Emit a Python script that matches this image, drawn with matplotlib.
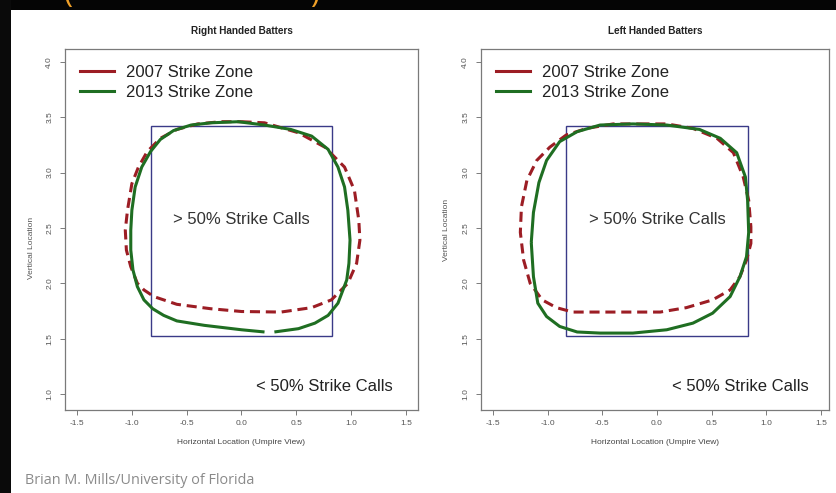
import matplotlib
matplotlib.use("Agg")
import matplotlib.pyplot as plt
from matplotlib.patches import Rectangle
from matplotlib.lines import Line2D

# ---- data -------------------------------------------------------------
panel_titles = ["Right Handed Batters", "Left Handed Batters"]
series_labels = ["2007 Strike Zone", "2013 Strike Zone"]

# rulebook zone (feet)
zone_x = [-0.83, 0.83]
zone_y = [1.52, 3.42]

# 50% called-strike contours, right handed batters
rhb_2013_x = [0.21, 0.00, -0.34, -0.59, -0.71, -0.81, -0.89, -0.95, -0.99, -1.01,
              -1.01, -1.00, -0.97, -0.91, -0.83, -0.74, -0.62, -0.46, -0.28, -0.03,
              0.21, 0.45, 0.64, 0.79, 0.88, 0.94, 0.97, 0.99, 0.98, 0.96,
              0.88, 0.79, 0.67, 0.52, 0.30]
rhb_2013_y = [1.56, 1.58, 1.62, 1.66, 1.71, 1.77, 1.85, 1.97, 2.12, 2.30,
              2.48, 2.66, 2.87, 3.05, 3.19, 3.30, 3.38, 3.43, 3.45, 3.46,
              3.43, 3.39, 3.33, 3.21, 3.05, 2.87, 2.66, 2.39, 2.18, 2.03,
              1.82, 1.71, 1.64, 1.59, 1.56]
rhb_2007_x = [0.00, 0.21, 0.52, 0.76, 0.94, 1.03, 1.07, 1.08, 1.05, 0.97,
              0.82, 0.64, 0.36, 0.00, -0.28, -0.59, -0.80, -0.89, -0.95, -1.01,
              -1.05, -1.06, -1.04, -1.00, -0.94, -0.86, -0.74, -0.59, -0.40, -0.19, 0.00]
rhb_2007_y = [3.46, 3.45, 3.36, 3.23, 3.05, 2.84, 2.57, 2.39, 2.18, 2.00,
              1.85, 1.78, 1.74, 1.745, 1.77, 1.81, 1.88, 1.94, 2.00, 2.15,
              2.30, 2.48, 2.66, 2.90, 3.05, 3.19, 3.31, 3.39, 3.44, 3.46, 3.46]

# 50% called-strike contours, left handed batters
lhb_2013_x = [-1.15, -1.13, -1.08, -1.01, -0.89, -0.73, -0.52, -0.22, 0.09, 0.39,
              0.58, 0.73, 0.81, 0.83, 0.84, 0.82, 0.76, 0.67, 0.51, 0.33,
              0.09, -0.22, -0.52, -0.73, -0.89, -1.01, -1.09, -1.13, -1.15]
lhb_2013_y = [2.37, 2.64, 2.91, 3.11, 3.28, 3.37, 3.43, 3.44, 3.43, 3.39,
              3.31, 3.18, 2.96, 2.75, 2.46, 2.24, 2.06, 1.88, 1.73, 1.64,
              1.58, 1.55, 1.55, 1.56, 1.61, 1.70, 1.82, 2.06, 2.37]
lhb_2007_x = [-0.16, 0.09, 0.33, 0.55, 0.70, 0.79, 0.84, 0.86, 0.86, 0.82,
              0.76, 0.67, 0.51, 0.27, 0.03, -0.22, -0.52, -0.77, -0.92, -1.05,
              -1.16, -1.22, -1.25, -1.24, -1.19, -1.10, -0.98, -0.83, -0.64, -0.40, -0.16]
lhb_2007_y = [3.44, 3.44, 3.40, 3.31, 3.18, 2.96, 2.75, 2.51, 2.36, 2.21,
              2.06, 1.94, 1.85, 1.78, 1.74, 1.74, 1.74, 1.74, 1.78, 1.85,
              2.00, 2.21, 2.46, 2.69, 2.93, 3.11, 3.23, 3.34, 3.40, 3.44, 3.44]

x_ticks = [-1.5, -1.0, -0.5, 0.0, 0.5, 1.0, 1.5]
y_ticks = [1.0, 1.5, 2.0, 2.5, 3.0, 3.5, 4.0]

inside_label = "> 50% Strike Calls"
outside_label = "< 50% Strike Calls"
credit = "Brian M. Mills/University of Florida"

# ---- style ------------------------------------------------------------
RED = "#9c1d24"
GREEN = "#1f6e22"
ZONE = "#3a3a88"
FRAME = "#7a7a7a"
TICKTXT = "#555555"

W, H = 837, 493
fig = plt.figure(figsize=(W / 100, H / 100), dpi=100, facecolor="white")
plt.rcParams["font.family"] = ["Liberation Sans", "DejaVu Sans"]

# dark slide border along the top and left
fig.patches.append(Rectangle((0, 1 - 10 / H), 1, 10 / H, transform=fig.transFigure,
                             facecolor="#050505", edgecolor="none", zorder=0))
fig.patches.append(Rectangle((0, 0), 11 / W, 1, transform=fig.transFigure,
                             facecolor="#0a0a0a", edgecolor="none", zorder=0))
fig.text(64 / W, 1 - 9 / H, "(", color="#f0a028", fontsize=22, ha="left", va="bottom",
         family="Open Sans")
fig.text(310 / W, 1 - 9 / H, ")", color="#f0a028", fontsize=22, ha="left", va="bottom",
         family="Open Sans")

axes_px = [(65, 418), (481, 829)]
xlims = [(-1.61, 1.61), (-1.61, 1.575)]
ylim = (0.855, 4.117)
top_px, bot_px = 49, 410

panels = [
    (rhb_2007_x, rhb_2007_y, rhb_2013_x, rhb_2013_y),
    (lhb_2007_x, lhb_2007_y, lhb_2013_x, lhb_2013_y),
]
ylabel_pos = [(-0.0935, 0.45), (-0.098, 0.5)]

for i, (x07, y07, x13, y13) in enumerate(panels):
    x0, x1 = axes_px[i]
    ax = fig.add_axes([x0 / W, (H - bot_px) / H, (x1 - x0) / W, (bot_px - top_px) / H])
    ax.set_xlim(*xlims[i])
    ax.set_ylim(*ylim)

    ax.add_patch(Rectangle((zone_x[0], zone_y[0]), zone_x[1] - zone_x[0],
                           zone_y[1] - zone_y[0], fill=False, edgecolor=ZONE,
                           linewidth=1.0, zorder=2))
    ax.plot(x07, y07, color=RED, linewidth=2.2, dashes=(3.3, 1.9),
            solid_capstyle="butt", zorder=3)
    ax.plot(x13, y13, color=GREEN, linewidth=2.2, solid_joinstyle="round",
            solid_capstyle="butt", zorder=4)

    ax.text(0.0, 2.58, inside_label, fontsize=12, color="#333333",
            ha="center", va="center")
    ax.text(0.76, 1.07, outside_label, fontsize=12, color="#222222",
            ha="center", va="center")

    handles = [Line2D([], [], color=RED, linewidth=2.2),
               Line2D([], [], color=GREEN, linewidth=2.2)]
    leg = ax.legend(handles, series_labels, loc="upper left",
                    bbox_to_anchor=(15.5 / (x1 - x0), (bot_px - 64.5) / (bot_px - top_px)),
                    frameon=False, fontsize=12, handlelength=2.0,
                    handletextpad=0.72, borderpad=0, borderaxespad=0,
                    labelspacing=0.33)
    for t in leg.get_texts():
        t.set_color("#222222")

    ax.set_title(panel_titles[i], fontsize=7.2, fontweight="bold",
                 color="#222222", pad=11)

    ax.set_xticks(x_ticks)
    ax.set_yticks(y_ticks)
    ax.set_xticklabels([f"{v:.1f}" for v in x_ticks])
    ax.set_yticklabels([f"{v:.1f}" for v in y_ticks], rotation=90, va="center")
    ax.tick_params(axis="both", direction="out", length=3.5, width=0.7,
                   color=FRAME, labelcolor=TICKTXT, labelsize=6)
    ax.tick_params(axis="x", pad=4)
    ax.tick_params(axis="y", pad=5)
    for s in ax.spines.values():
        s.set_color(FRAME)
        s.set_linewidth(0.9)

    ax.set_xlabel("Horizontal Location (Umpire View)", fontsize=6, color="#444444")
    ax.xaxis.set_label_coords(0.5, -(443 - bot_px) / (bot_px - top_px))
    ax.xaxis.label.set_va("center")
    ax.set_ylabel("Vertical Location", fontsize=6, color="#555555")
    ax.yaxis.set_label_coords(*ylabel_pos[i])
    ax.yaxis.label.set_va("center")

fig.text(25 / W, 1 - 480 / H, credit, fontsize=10.4, color="#8a8a8a",
         family="Open Sans", ha="left", va="center")

fig.savefig("out.png", dpi=100, facecolor=fig.get_facecolor())
